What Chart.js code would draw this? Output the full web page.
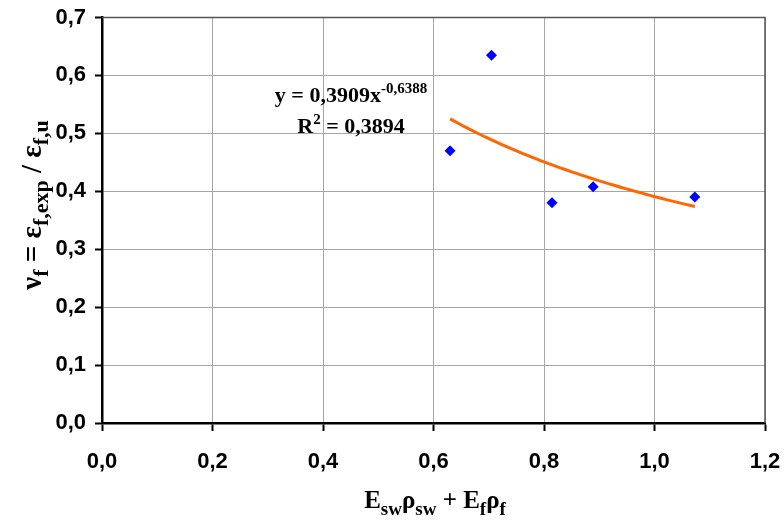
<!DOCTYPE html>
<html>
<head>
<meta charset="utf-8">
<script src="https://cdn.jsdelivr.net/npm/chart.js@4/dist/chart.umd.min.js"></script>
<style>
  html, body { margin: 0; padding: 0; background: #fff; }
  #wrap { width: 784px; height: 524px; }
</style>
</head>
<body>
<div id="wrap"><canvas id="grafico"></canvas></div>
<script>
// measured points
const xValues = [0.630, 0.705, 0.8145, 0.889, 1.073];
const yValues = [0.470, 0.635, 0.380, 0.408, 0.390];

// power trendline y = a * x^b
const trendA = 0.3909;
const trendB = -0.6388;
const trendR2 = 0.3894;

const xTicks = [0, 0.2, 0.4, 0.6, 0.8, 1.0, 1.2];
const yTicks = [0, 0.1, 0.2, 0.3, 0.4, 0.5, 0.6, 0.7];

const comma = (n, d) => n.toFixed(d).replace('.', ',');

const points = xValues.map((x, i) => ({ x: x, y: yValues[i] }));

const xMin = Math.min(...xValues);
const xMax = Math.max(...xValues);
const trend = [];
for (let i = 0; i <= 60; i++) {
    const x = xMin + (xMax - xMin) * i / 60;
    trend.push({ x: x, y: trendA * Math.pow(x, trendB) });
}

// draws a run of text pieces: [text, 'n' | 'sub' | 'sup']
function richWidth(ctx, parts, big, small) {
    let w = 0;
    parts.forEach(p => {
        ctx.font = (p[1] === 'n' ? big : small);
        w += ctx.measureText(p[0]).width;
    });
    return w;
}
function richText(ctx, parts, x, y, big, small, subOff, supOff) {
    let cx = x;
    parts.forEach(p => {
        ctx.font = (p[1] === 'n' ? big : small);
        let dy = 0;
        if (p[1] === 'sub') dy = subOff;
        if (p[1] === 'sup') dy = -supOff;
        ctx.fillText(p[0], cx, y + dy);
        cx += ctx.measureText(p[0]).width;
    });
}

// tick labels must not push the plot area inwards
function noLabelPadding(s) {
    s.paddingLeft = 0;
    s.paddingRight = 0;
    s.paddingTop = 0;
    s.paddingBottom = 0;
}

const serif = '"Liberation Serif", "Times New Roman", serif';

const textos = {
    id: 'textos',
    afterDraw(chart) {
        const ctx = chart.ctx;
        const a = chart.chartArea;
        ctx.save();

        // moldura superior e direita
        ctx.strokeStyle = '#555';
        ctx.lineWidth = 1.5;
        ctx.beginPath();
        ctx.moveTo(a.left, a.top);
        ctx.lineTo(a.right, a.top);
        ctx.lineTo(a.right, a.bottom);
        ctx.stroke();

        ctx.fillStyle = '#000';
        ctx.textBaseline = 'alphabetic';
        ctx.textAlign = 'left';

        // titulo eixo x
        const bigX = 'bold 25px ' + serif;
        const smallX = 'bold 19px ' + serif;
        const xt = [['E', 'n'], ['sw', 'sub'], ['\u03C1', 'n'], ['sw', 'sub'], [' + E', 'n'], ['f', 'sub'], ['\u03C1', 'n'], ['f', 'sub']];
        let w = richWidth(ctx, xt, bigX, smallX);
        richText(ctx, xt, 435 - w / 2, 508, bigX, smallX, 7, 0);

        // titulo eixo y (rotacionado)
        const bigY = 'bold 29px ' + serif;
        const smallY = 'bold 22px ' + serif;
        const yt = [['\u03BD', 'n'], ['f', 'sub'], [' = \u03B5', 'n'], ['f,exp', 'sub'], [' / \u03B5', 'n'], ['f,u', 'sub']];
        w = richWidth(ctx, yt, bigY, smallY);
        ctx.save();
        ctx.translate(41, 205);
        ctx.rotate(-Math.PI / 2);
        richText(ctx, yt, -w / 2, 0, bigY, smallY, 7, 0);
        ctx.restore();

        // equacao da linha de tendencia
        const big = 'bold 22px ' + serif;
        const small = 'bold 15px ' + serif;
        const eq = [['y = ' + comma(trendA, 4) + 'x', 'n'], [comma(trendB, 4), 'sup']];
        w = richWidth(ctx, eq, big, small);
        richText(ctx, eq, 351 - w / 2, 102, big, small, 0, 9);
        const r2 = [['R', 'n'], ['2', 'sup'], [' = ' + comma(trendR2, 4), 'n']];
        w = richWidth(ctx, r2, big, small);
        richText(ctx, r2, 351 - w / 2, 133, big, small, 0, 9);

        ctx.restore();
    }
};

const tickFont = { family: '"Liberation Sans", Arial, sans-serif', size: 22, weight: 'bold' };

new Chart(document.getElementById('grafico'), {
    type: 'scatter',
    data: {
        datasets: [
            {
                label: 'dados',
                data: points,
                pointStyle: 'rectRot',
                pointRadius: 5.5,
                backgroundColor: '#0000FF',
                borderColor: '#0000FF',
                borderWidth: 0,
                order: 1
            },
            {
                label: 'tendencia',
                data: trend,
                showLine: true,
                pointRadius: 0,
                borderColor: '#FF6600',
                borderWidth: 3,
                fill: false,
                order: 2
            }
        ]
    },
    options: {
        responsive: true,
        maintainAspectRatio: false,
        animation: false,
        layout: { padding: { top: 17.5, right: 19, left: 0, bottom: 0 } },
        scales: {
            x: {
                type: 'linear',
                min: 0,
                max: 1.2,
                afterBuildTicks: s => { s.ticks = xTicks.map(v => ({ value: v })); },
                afterFit: s => { s.height = 101; noLabelPadding(s); },
                grid: { color: '#a6a6a6', lineWidth: 1, tickColor: '#000', tickLength: 8, tickWidth: 2 },
                border: { color: '#000', width: 2.5 },
                ticks: { color: '#000', font: tickFont, padding: 18, maxRotation: 0, callback: v => comma(v, 1) }
            },
            y: {
                type: 'linear',
                min: 0,
                max: 0.7,
                afterBuildTicks: s => { s.ticks = yTicks.map(v => ({ value: v })); },
                afterFit: s => { s.width = 102; noLabelPadding(s); },
                grid: { color: '#a6a6a6', lineWidth: 1, tickColor: '#000', tickLength: 7, tickWidth: 2 },
                border: { color: '#000', width: 2.5 },
                ticks: { color: '#000', font: tickFont, padding: 9, callback: v => comma(v, 1) }
            }
        },
        plugins: {
            legend: { display: false },
            tooltip: { enabled: false }
        }
    },
    plugins: [textos]
});
</script>
</body>
</html>
